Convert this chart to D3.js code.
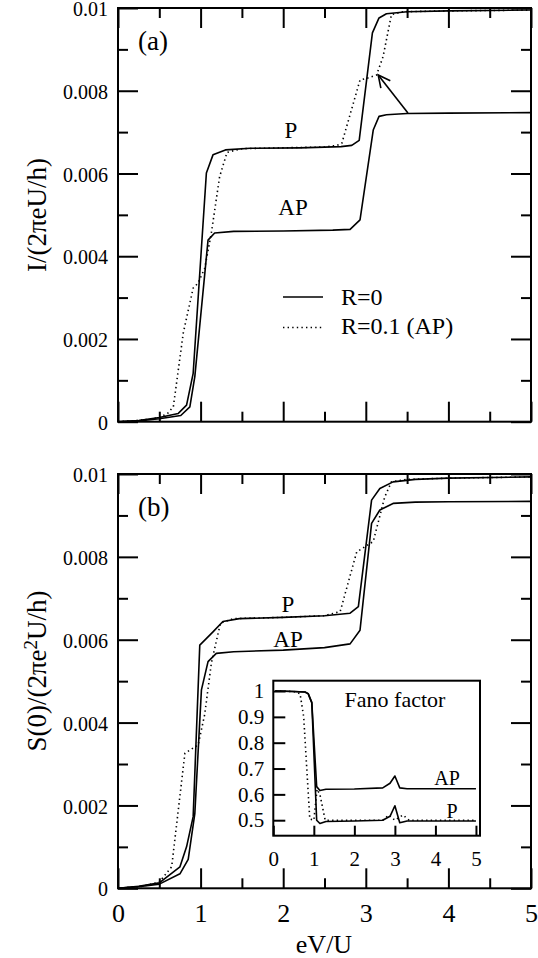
<!DOCTYPE html>
<html lang="en">
  <head>
    <meta charset="utf-8" />
    <title>Current and shot noise vs bias</title>
    <style>
      html body {
        margin: 0;
        background-color: #ffffff;
      }

      .frame {
        fill: none;
        stroke: #000;
        stroke-width: 2;
      }

      .curve {
        fill: none;
        stroke: #000;
        stroke-width: 1.6;
        stroke-linejoin: round;
      }

      .dotted {
        stroke-dasharray: 1.4 3.2;
      }

      .tick line {
        stroke: #000;
        stroke-width: 2;
      }
    </style>
  </head>

  <body>
    <svg></svg>

    <script src="https://d3js.org/d3.v7.min.js"></script>
    <script type="text/javascript">
      let width = 538,
        height = 958

      const serif = 'Liberation Serif, Times New Roman, DejaVu Serif, serif'

      // panel (a): current, [eV/U, I/(2 pi e U/h)]
      const curP = [
        [0, 0], [0.25, 0.00003], [0.5, 0.0001], [0.73, 0.0002], [0.83, 0.0004], [0.91, 0.00117],
        [1.07, 0.00601], [1.15, 0.00645], [1.3, 0.00657], [1.6, 0.00661], [2.2, 0.00662], [2.7, 0.00665],
        [2.83, 0.00668], [2.92, 0.0068], [3.08, 0.0094], [3.16, 0.00976], [3.25, 0.00986], [3.5, 0.00991],
        [4, 0.00993], [5, 0.00995],
      ]
      const curAP = [
        [0, 0], [0.25, 0.00002], [0.5, 0.00007], [0.76, 0.00015], [0.87, 0.00036], [0.93, 0.00109],
        [1.09, 0.00439], [1.17, 0.00456], [1.4, 0.0046], [2, 0.00461], [2.6, 0.00463], [2.81, 0.00465],
        [2.93, 0.00488], [3.09, 0.00705], [3.16, 0.00738], [3.25, 0.00742], [3.5, 0.00745], [4, 0.00746],
        [5, 0.00747],
      ]
      const curR01 = [
        [0, 0], [0.3, 0.00004], [0.5, 0.0001], [0.6, 0.0002], [0.67, 0.00036], [0.79, 0.00214],
        [0.91, 0.00323], [0.97, 0.00335], [1.05, 0.00371], [1.13, 0.00456], [1.23, 0.00592], [1.32, 0.00651],
        [1.5, 0.0066], [2, 0.00662], [2.5, 0.00664], [2.65, 0.00668], [2.71, 0.00673], [2.93, 0.00826],
        [3.01, 0.0083], [3.13, 0.00838], [3.21, 0.00883], [3.31, 0.00984], [3.45, 0.00991], [4, 0.00993],
        [5, 0.00995],
      ]

      // panel (b): shot noise, [eV/U, S(0)/(2 pi e^2 U/h)]
      const noiseP = [
        [0, 0], [0.25, 0.00005], [0.5, 0.00013], [0.75, 0.00052], [0.83, 0.001], [0.91, 0.00173],
        [0.99, 0.00587], [1.15, 0.00619], [1.27, 0.00644], [1.47, 0.00651], [2, 0.00654], [2.5, 0.00658],
        [2.81, 0.00664], [2.91, 0.0068], [3.07, 0.00937], [3.17, 0.00965], [3.33, 0.00981], [3.6, 0.00987],
        [4, 0.0099], [5, 0.00993],
      ]
      const noiseAP = [
        [0, 0], [0.25, 0.00004], [0.5, 0.0001], [0.75, 0.00035], [0.85, 0.0007], [0.93, 0.0018],
        [1.01, 0.00479], [1.09, 0.00547], [1.19, 0.00567], [1.4, 0.00571], [2, 0.00575], [2.5, 0.00581],
        [2.81, 0.0059], [2.93, 0.00623], [3.07, 0.00881], [3.17, 0.00913], [3.33, 0.00929], [3.6, 0.00932],
        [4, 0.00933], [5, 0.00934],
      ]
      const noiseR01 = [
        [0, 0], [0.3, 0.00005], [0.5, 0.00015], [0.65, 0.00052], [0.81, 0.00326], [0.97, 0.00346],
        [1.05, 0.0042], [1.13, 0.00543], [1.24, 0.0064], [1.4, 0.00651], [2, 0.00654], [2.5, 0.00658],
        [2.69, 0.00668], [2.89, 0.00812], [3.09, 0.00837], [3.23, 0.00945], [3.31, 0.00981], [3.5, 0.00987],
        [4, 0.0099], [5, 0.00993],
      ]

      // inset: Fano factor
      const fanoAP = [
        [0.05, 1.0], [0.5, 0.998], [0.78, 0.996], [0.86, 0.99], [0.95, 0.955], [1.07, 0.63], [1.15, 0.615],
        [1.3, 0.62], [2, 0.621], [2.7, 0.625], [2.88, 0.643], [3.0, 0.671], [3.12, 0.625], [3.3, 0.622],
        [5, 0.622],
      ]
      const fanoP = [
        [0.05, 1.0], [0.5, 0.998], [0.78, 0.996], [0.86, 0.99], [0.95, 0.955], [1.07, 0.5], [1.15, 0.487],
        [1.3, 0.495], [2, 0.497], [2.7, 0.5], [2.88, 0.515], [3.0, 0.556], [3.12, 0.49], [3.3, 0.497],
        [5, 0.497],
      ]
      const fanoR01 = [
        [0.05, 1.0], [0.5, 0.998], [0.66, 0.99], [0.75, 0.9], [0.9, 0.505], [1.0, 0.5], [1.08, 0.62],
        [1.15, 0.6], [1.28, 0.5], [2, 0.5], [2.7, 0.5], [2.85, 0.52], [3.0, 0.5], [3.2, 0.52], [3.35, 0.5],
        [5, 0.5],
      ]

      const yTicks = [0, 0.002, 0.004, 0.006, 0.008, 0.01]
      const yMinor = [0.001, 0.003, 0.005, 0.007, 0.009]
      const xTicks = [0, 1, 2, 3, 4, 5]
      const xMinor = [0.5, 1.5, 2.5, 3.5, 4.5]
      const fanoTicks = [0.5, 0.6, 0.7, 0.8, 0.9, 1]
      const arrowFrom = [3.51, 0.00746],
        arrowTo = [3.15, 0.00838]

      let svg = d3.select('svg').attr('width', width).attr('height', height).attr('font-family', serif)

      let x = d3.scaleLinear().domain([0, 5]).range([118, 531])
      let yA = d3.scaleLinear().domain([0, 0.01]).range([421.7, 8])
      let yB = d3.scaleLinear().domain([0, 0.01]).range([888.3, 474])

      let fmtY = (d) => (d === 0 ? '0' : d === 0.01 ? '0.01' : d3.format('.3f')(d))

      // axis helper: drop the domain line and use the serif font
      let clean = (a, size) => {
        a.attr('font-family', serif)
        a.select('.domain').remove()
        if (size) a.selectAll('text').attr('font-size', size)
      }

      svg
        .append('defs')
        .append('marker')
        .attr('id', 'head')
        .attr('markerUnits', 'userSpaceOnUse')
        .attr('viewBox', '-14 -8 16 16')
        .attr('markerWidth', 16)
        .attr('markerHeight', 16)
        .attr('orient', 'auto')
        .append('path')
        .attr('d', 'M-12,-6L0,0L-12,6')
        .attr('fill', 'none')
        .attr('stroke', '#000')
        .attr('stroke-width', 1.6)

      function panel(y, tickLabelsX, letter, series) {
        let g = svg.append('g')
        let [x0, x1] = x.range()
        let [y0, y1] = y.range()

        // left axis with labels, ticks pointing inwards
        g.append('g')
          .attr('transform', `translate(${x0},0)`)
          .call(d3.axisLeft(y).tickValues(yTicks).tickSize(-20).tickPadding(10).tickFormat(fmtY))
          .call(clean, 20)
          .call((a) => a.selectAll('text').attr('dy', '0.38em'))
        g.append('g')
          .attr('transform', `translate(${x0},0)`)
          .call(d3.axisLeft(y).tickValues(yMinor).tickSize(-10).tickFormat(''))
          .call(clean)
        // right axis mirror
        g.append('g')
          .attr('transform', `translate(${x1},0)`)
          .call(d3.axisRight(y).tickValues(yTicks).tickSize(-20).tickFormat(''))
          .call(clean)
        g.append('g')
          .attr('transform', `translate(${x1},0)`)
          .call(d3.axisRight(y).tickValues(yMinor).tickSize(-10).tickFormat(''))
          .call(clean)

        // bottom and top
        let bottom = d3.axisBottom(x).tickValues(xTicks).tickSize(-20).tickPadding(15)
        bottom.tickFormat(tickLabelsX ? d3.format('d') : '')
        g.append('g')
          .attr('transform', `translate(0,${y0})`)
          .call(bottom)
          .call(clean, 26)
        g.append('g')
          .attr('transform', `translate(0,${y0})`)
          .call(d3.axisBottom(x).tickValues(xMinor).tickSize(-10).tickFormat(''))
          .call(clean)
        g.append('g')
          .attr('transform', `translate(0,${y1})`)
          .call(d3.axisTop(x).tickValues(xTicks).tickSize(-20).tickFormat(''))
          .call(clean)
        g.append('g')
          .attr('transform', `translate(0,${y1})`)
          .call(d3.axisTop(x).tickValues(xMinor).tickSize(-10).tickFormat(''))
          .call(clean)

        let line = d3
          .line()
          .x((d) => x(d[0]))
          .y((d) => y(d[1]))

        series.forEach((s) => {
          g.append('path')
            .attr('class', s.dotted ? 'curve dotted' : 'curve')
            .attr('d', line(s.data))
        })

        g.append('rect')
          .attr('class', 'frame')
          .attr('x', x0)
          .attr('y', y1)
          .attr('width', x1 - x0)
          .attr('height', y0 - y1)

        g.append('text')
          .attr('x', 138)
          .attr('y', y1 + 42)
          .attr('font-size', 27)
          .text(letter)

        return g
      }

      // panel (a)
      let ga = panel(yA, false, '(a)', [
        { data: curP },
        { data: curAP },
        { data: curR01, dotted: true },
      ])

      ga.append('text').attr('x', 291).attr('y', 138).attr('font-size', 23).attr('text-anchor', 'middle').text('P')
      ga.append('text').attr('x', 293).attr('y', 215).attr('font-size', 23).attr('text-anchor', 'middle').text('AP')

      ga.append('line')
        .attr('x1', x(arrowFrom[0]))
        .attr('y1', yA(arrowFrom[1]))
        .attr('x2', x(arrowTo[0]))
        .attr('y2', yA(arrowTo[1]))
        .attr('stroke', '#000')
        .attr('stroke-width', 1.6)
        .attr('marker-end', 'url(#head)')

      // legend
      let legend = ga.append('g')
      legend.append('line').attr('x1', 283).attr('x2', 323).attr('y1', 297).attr('y2', 297).attr('class', 'curve')
      legend
        .append('line')
        .attr('x1', 283)
        .attr('x2', 323)
        .attr('y1', 327.5)
        .attr('y2', 327.5)
        .attr('class', 'curve dotted')
      legend.append('text').attr('x', 341).attr('y', 305).attr('font-size', 24).text('R=0')
      legend.append('text').attr('x', 341).attr('y', 334).attr('font-size', 24).text('R=0.1 (AP)')

      ga.append('text')
        .attr('transform', 'translate(46,215) rotate(-90)')
        .attr('text-anchor', 'middle')
        .attr('font-size', 27)
        .text('I/(2πeU/h)')

      // panel (b)
      let gb = panel(yB, true, '(b)', [
        { data: noiseP },
        { data: noiseAP },
        { data: noiseR01, dotted: true },
      ])

      gb.append('text').attr('x', 288).attr('y', 612).attr('font-size', 23).attr('text-anchor', 'middle').text('P')
      gb.append('text').attr('x', 288).attr('y', 647).attr('font-size', 23).attr('text-anchor', 'middle').text('AP')

      let yLabel = gb
        .append('text')
        .attr('transform', 'translate(46,671) rotate(-90)')
        .attr('text-anchor', 'middle')
        .attr('font-size', 27)
      yLabel.append('tspan').text('S(0)/(2πe')
      yLabel.append('tspan').attr('dy', '-0.45em').attr('font-size', 19).text('2')
      yLabel.append('tspan').attr('dy', '0.3em').text('U/h)')

      svg.append('text').attr('x', 324).attr('y', 953).attr('font-size', 26).attr('text-anchor', 'middle').text('eV/U')

      // inset: Fano factor
      let fx = d3.scaleLinear().domain([0, 5.1]).range([273.3, 480])
      let fy = d3.scaleLinear().domain([0.44, 1.04]).range([835.7, 680.7])
      let gi = svg.append('g')

      gi.append('rect')
        .attr('x', fx(0))
        .attr('y', fy(1.04))
        .attr('width', fx(5.1) - fx(0))
        .attr('height', fy(0.44) - fy(1.04))
        .attr('fill', '#fff')

      gi.append('g')
        .attr('transform', `translate(${fx(0)},0)`)
        .call(d3.axisLeft(fy).tickValues(fanoTicks).tickSize(-12).tickPadding(9).tickFormat(d3.format('~g')))
        .call(clean, 21)
      gi.append('g')
        .attr('transform', `translate(0,${fy(0.44)})`)
        .call(d3.axisBottom(fx).tickValues(xTicks).tickSize(-10).tickPadding(15).tickFormat(d3.format('d')))
        .call(clean, 21)
      gi.selectAll('.tick line').attr('stroke-width', 1.6)

      let fline = d3
        .line()
        .x((d) => fx(d[0]))
        .y((d) => fy(d[1]))

      gi.append('path').attr('class', 'curve').attr('d', fline(fanoAP))
      gi.append('path').attr('class', 'curve').attr('d', fline(fanoP))
      gi.append('path').attr('class', 'curve dotted').attr('d', fline(fanoR01))

      gi.append('rect')
        .attr('class', 'frame')
        .attr('stroke-width', 1.6)
        .attr('x', fx(0))
        .attr('y', fy(1.04))
        .attr('width', fx(5.1) - fx(0))
        .attr('height', fy(0.44) - fy(1.04))

      gi.append('text').attr('x', 395).attr('y', 707).attr('font-size', 22).attr('text-anchor', 'middle').text('Fano factor')
      gi.append('text').attr('x', 447).attr('y', 785).attr('font-size', 20).attr('text-anchor', 'middle').text('AP')
      gi.append('text').attr('x', 452).attr('y', 818).attr('font-size', 20).attr('text-anchor', 'middle').text('P')
    </script>
  </body>
</html>
